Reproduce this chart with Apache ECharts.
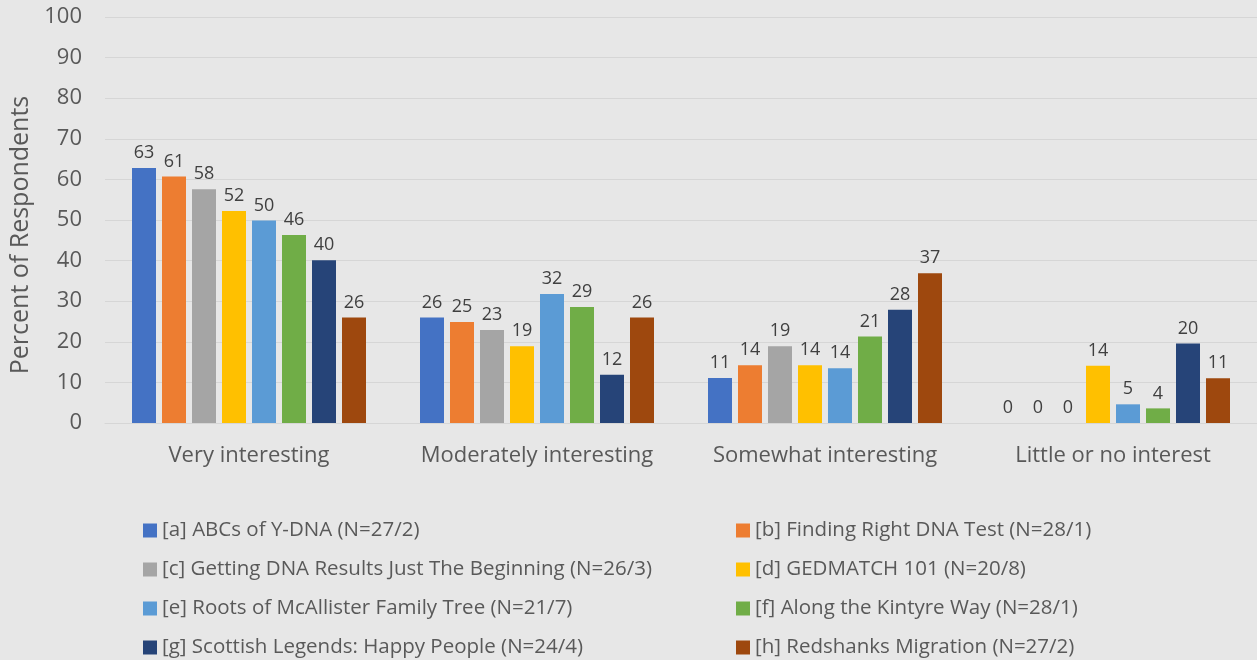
<!DOCTYPE html>
<html lang="en">
<head>
    <meta charset="UTF-8"/>
    <title>Interest by talk</title>
    <script src="https://cdn.jsdelivr.net/npm/echarts@6/dist/echarts.min.js"></script>
    <style>
        html, body { margin: 0; padding: 0; background: #e7e7e7; }
        #main { width: 1257px; height: 660px; }
    </style>
</head>
<body>
<div id="main"></div>
<script type="text/javascript">
    // data
    var categories = ['Very interesting', 'Moderately interesting', 'Somewhat interesting', 'Little or no interest'];
    var talkNames = [
        '[a] ABCs of Y-DNA (N=27/2)',
        '[b] Finding Right DNA Test (N=28/1)',
        '[c] Getting DNA Results Just The Beginning (N=26/3)',
        '[d] GEDMATCH 101 (N=20/8)',
        '[e] Roots of McAllister Family Tree (N=21/7)',
        '[f] Along the Kintyre Way (N=28/1)',
        '[g] Scottish Legends: Happy People (N=24/4)',
        '[h] Redshanks Migration (N=27/2)'
    ];
    var valuesA = [62.8, 26.0, 11.1, 0];
    var valuesB = [60.7, 24.9, 14.2, 0];
    var valuesC = [57.6, 22.9, 18.9, 0];
    var valuesD = [52.2, 18.9, 14.2, 14.1];
    var valuesE = [49.9, 31.8, 13.5, 4.6];
    var valuesF = [46.3, 28.6, 21.3, 3.6];
    var valuesG = [40.1, 11.9, 27.9, 19.6];
    var valuesH = [26.0, 26.0, 36.9, 11.0];
    var yTicks = [0, 10, 20, 30, 40, 50, 60, 70, 80, 90, 100];

    var colors = ['#4472C4', '#ED7D31', '#A5A5A5', '#FFC000', '#5B9BD5', '#70AD47', '#264478', '#9E480E'];
    var allValues = [valuesA, valuesB, valuesC, valuesD, valuesE, valuesF, valuesG, valuesH];
    var font = '"Open Sans", Lato, sans-serif';

    var series = [];
    for (var i = 0; i < talkNames.length; i++) {
        series.push({
            name: talkNames[i],
            type: 'bar',
            barWidth: 24,
            barGap: '25%',
            data: allValues[i],
            itemStyle: { color: colors[i] },
            label: {
                show: true,
                position: 'top',
                distance: 6,
                color: '#404040',
                fontFamily: font,
                fontSize: 18,
                formatter: function (p) { return Math.round(p.value); }
            }
        });
    }

    var legendText = { color: '#595959', fontFamily: font, fontSize: 20.5, lineHeight: 20 };

    var myChart = echarts.init(document.getElementById('main'));
    var option = {
        backgroundColor: '#e7e7e7',
        color: colors,
        animation: false,
        grid: { left: 100, right: 0, top: 17, bottom: 237 },
        legend: [
            {
                orient: 'vertical',
                left: 143, top: 520, padding: 0,
                itemWidth: 14, itemHeight: 14, itemGap: 18,
                icon: 'rect',
                data: [talkNames[0], talkNames[2], talkNames[4], talkNames[6]],
                textStyle: legendText
            },
            {
                orient: 'vertical',
                left: 736, top: 520, padding: 0,
                itemWidth: 14, itemHeight: 14, itemGap: 18,
                icon: 'rect',
                data: [talkNames[1], talkNames[3], talkNames[5], talkNames[7]],
                textStyle: legendText
            }
        ],
        xAxis: {
            type: 'category',
            data: categories,
            axisTick: { show: false },
            axisLine: { lineStyle: { color: '#d6d6d6', width: 1 } },
            axisLabel: { color: '#595959', fontFamily: font, fontSize: 22, margin: 22, interval: 0, hideOverlap: false }
        },
        yAxis: {
            type: 'value',
            min: yTicks[0],
            max: yTicks[yTicks.length - 1],
            interval: 10,
            name: 'Percent of Respondents',
            nameLocation: 'middle',
            nameGap: 72,
            nameTextStyle: { color: '#595959', fontFamily: font, fontSize: 25, padding: [0, 30, 0, 0] },
            axisLabel: { color: '#595959', fontFamily: font, fontSize: 22, margin: 23 },
            splitLine: { lineStyle: { color: '#d6d6d6', width: 1 } }
        },
        series: series
    };
    myChart.setOption(option);
</script>
</body>
</html>
